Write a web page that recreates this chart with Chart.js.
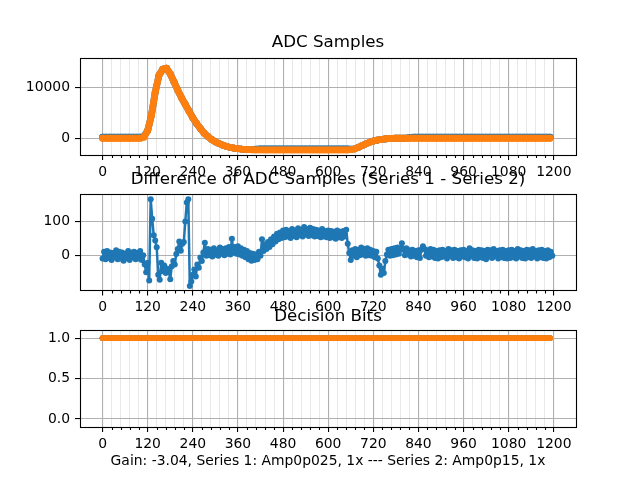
<!DOCTYPE html>
<html>
<head>
<meta charset="utf-8">
<script src="https://cdn.jsdelivr.net/npm/chart.js@4.4.1/dist/chart.umd.min.js"></script>
<style>
    body { margin: 0; background: #fff; }
    #wrap { position: relative; width: 640px; height: 480px; }
    canvas { position: absolute; left: 0; }
</style>
</head>
<body>
<div id="wrap">
    <canvas id="adcChart" width="640" height="180" style="top:0px"></canvas>
    <canvas id="diffChart" width="640" height="160" style="top:160px"></canvas>
    <canvas id="bitsChart" width="640" height="184" style="top:296px"></canvas>
</div>
<script>
// sample spacing of the values below
const adcStep = 10;
const diffStep = 4;
const bitStep = 10;

const xTickLabels = [0, 120, 240, 360, 480, 600, 720, 840, 960, 1080, 1200];

// ADC samples, series 1 (blue) - samples 0..1190
const adcSeries1 = [
    200, 200, 200, 200, 200, 200, 200, 200, 200, 200, 200, 350,
    1500, 4500, 9000, 12300, 13500, 13700, 12600, 11000, 9400, 7900, 6600, 5300,
    4000, 2900, 1900, 1000, 350, -250, -700, -1050, -1350, -1600, -1800, -1950,
    -2050, -2130, -2180, -2200, -2200, -2150, -2100, -2080, -2080, -2080, -2080, -2080,
    -2080, -2080, -2080, -2080, -2080, -2080, -2080, -2080, -2080, -2080, -2080, -2080,
    -2080, -2080, -2080, -2080, -2080, -2080, -2120, -2080, -1800, -1450, -1100, -800,
    -550, -380, -250, -150, -80, -30, 0, 0, 0, 50, 150, 200,
    200, 200, 200, 200, 200, 200, 200, 200, 200, 200, 200, 200,
    200, 200, 200, 200, 200, 200, 200, 200, 200, 200, 200, 200,
    200, 200, 200, 200, 200, 200, 200, 200, 200, 200, 200, 200
];

// ADC samples, series 2 (orange)
const adcSeries2 = [
    0, 0, 0, 0, 0, 0, 0, 0, 0, 0, 0, 200,
    1500, 4500, 9000, 12300, 13500, 13700, 12600, 11000, 9400, 7900, 6600, 5300,
    4000, 2900, 1900, 1000, 350, -250, -700, -1050, -1350, -1600, -1800, -1950,
    -2050, -2130, -2180, -2220, -2250, -2260, -2270, -2280, -2280, -2280, -2280, -2280,
    -2280, -2280, -2280, -2280, -2280, -2280, -2280, -2280, -2280, -2280, -2280, -2280,
    -2280, -2280, -2280, -2280, -2280, -2280, -2240, -2100, -1800, -1450, -1100, -800,
    -550, -380, -250, -150, -80, -30, 0, 0, 0, 0, 0, 0,
    0, 0, 0, 0, 0, 0, 0, 0, 0, 0, 0, 0,
    0, 0, 0, 0, 0, 0, 0, 0, 0, 0, 0, 0,
    0, 0, 0, 0, 0, 0, 0, 0, 0, 0, 0, 0
];

// Series 1 - Series 2, samples 0..1196
const adcDiff = [
    -8, 12, -10, 14, -6, 10, -12, 8, -4, 16, -10, 12, -8, 10, -14, 6, -6, 14, -12, 10, -4, 12, -10, 8, -8, 14, -12, 2, -25, -48,
    -20, -72, 165, 108, 60, 45, 25, -55, -70, -20, -45, -28, -50, -38, -45, -68, -30, -15, -25, 5, 20, 42, 15, 35, 40, 100, 155, 165, -88, -75,
    -55, -40, -60, -25, -35, -5, -15, 10, 38, 0, 20, 2, 18, -2, 22, 4, 16, 0, 24, 6, 20, 2, 22, 6, 26, 4, 50, 10, 26, 6,
    28, 4, 22, 0, 18, -4, 14, -10, 8, -14, 6, -12, 4, -10, 12, 0, 48, 14, 34, 20, 40, 26, 48, 34, 56, 42, 64, 48, 68, 52,
    74, 54, 76, 56, 72, 52, 78, 58, 74, 54, 80, 60, 76, 56, 84, 62, 78, 58, 82, 60, 78, 56, 76, 58, 74, 54, 78, 56, 72, 54,
    74, 52, 72, 54, 70, 50, 74, 54, 70, 52, 72, 56, 76, 35, 8, -12, 16, 0, 20, -4, 18, 2, 24, 4, 20, 0, 22, 2, 18, 0,
    14, -4, 12, -8, -28, -55, -38, -50, -15, 4, 18, 0, 20, 2, 22, 4, 24, 6, 20, 37, 18, 2, 22, 4, 16, -2, 18, 0, 14, -4,
    16, -6, 18, 28, 20, 0, 16, -4, 20, -2, 18, -6, 14, -8, 16, -4, 18, -2, 14, -8, 20, 0, 16, -6, 18, -4, 14, -8, 16, -2,
    18, -4, 14, -8, 22, 0, 16, -6, 14, -8, 18, -4, 16, -6, 14, -10, 18, -2, 16, -6, 20, 0, 14, -8, 16, -4, 18, -6, 14, -8,
    16, -6, 18, -4, 14, -8, 20, -2, 16, -6, 14, -8, 18, -4, 16, -6, 20, -2, 14, -8, 16, -4, 18, -6, 14, -8, 16, -4, 12, 0
];

// decision bits, samples 0..1190 (same for both series)
const decisionBits = [
    1, 1, 1, 1, 1, 1, 1, 1, 1, 1, 1, 1, 1, 1, 1, 1, 1, 1, 1, 1, 1, 1, 1, 1,
    1, 1, 1, 1, 1, 1, 1, 1, 1, 1, 1, 1, 1, 1, 1, 1, 1, 1, 1, 1, 1, 1, 1, 1,
    1, 1, 1, 1, 1, 1, 1, 1, 1, 1, 1, 1, 1, 1, 1, 1, 1, 1, 1, 1, 1, 1, 1, 1,
    1, 1, 1, 1, 1, 1, 1, 1, 1, 1, 1, 1, 1, 1, 1, 1, 1, 1, 1, 1, 1, 1, 1, 1,
    1, 1, 1, 1, 1, 1, 1, 1, 1, 1, 1, 1, 1, 1, 1, 1, 1, 1, 1, 1, 1, 1, 1, 1
];

const BLUE = '#1f77b4';
const ORANGE = '#ff7f0e';

Chart.defaults.font.family = "'DejaVu Sans', sans-serif";
Chart.defaults.color = '#000';

// major ticks every 120, minor every 24
const xGrid = [];
for (let v = 0; v <= 1200; v += 24) xGrid.push(v);
const isMajor = v => xTickLabels.includes(v);

function toPoints(values, step) {
    return values.map((y, i) => ({ x: i * step, y: y }));
}

// black box round the axes + short minor ticks
const axesFrame = {
    id: 'axesFrame',
    afterDraw(chart) {
        const { ctx, chartArea: a } = chart;
        const x = chart.scales.x;
        ctx.save();
        ctx.strokeStyle = '#000';
        ctx.lineWidth = 1.1;
        ctx.beginPath();
        x.ticks.forEach(t => {
            if (!isMajor(t.value)) {
                const px = Math.round(x.getPixelForValue(t.value)) + 0.5;
                ctx.moveTo(px, a.bottom);
                ctx.lineTo(px, a.bottom + 3);
            }
        });
        ctx.stroke();
        ctx.strokeRect(Math.round(a.left) + 0.5, Math.round(a.top) + 0.5,
            Math.round(a.right - a.left), Math.round(a.bottom - a.top));
        ctx.restore();
    }
};

function makeOptions(o) {
    return {
        responsive: false,
        animation: false,
        events: [],
        layout: { padding: { left: 0, right: 64, top: 0, bottom: 0 } },
        plugins: {
            legend: { display: false },
            tooltip: { enabled: false },
            title: {
                display: true,
                fullSize: false,
                text: o.title,
                color: '#000',
                font: { size: 16.7, weight: 'normal' },
                padding: { top: o.titleTop, bottom: o.titleBottom }
            }
        },
        scales: {
            x: {
                type: 'linear',
                min: -60,
                max: 1259,
                afterBuildTicks: s => { s.ticks = xGrid.map(v => ({ value: v })); },
                afterFit: s => { s.height = o.xHeight; },
                ticks: {
                    autoSkip: false,
                    maxRotation: 0,
                    padding: 4,
                    font: { size: 13.9 },
                    callback: v => isMajor(v) ? String(v) : ''
                },
                grid: {
                    color: c => (c.tick && isMajor(c.tick.value)) ? '#b0b0b0' : '#e2e2e2',
                    lineWidth: c => (c.tick && isMajor(c.tick.value)) ? 1.1 : 0.8,
                    tickLength: 5,
                    tickColor: c => (c.tick && isMajor(c.tick.value)) ? '#000' : 'rgba(0,0,0,0)',
                    tickWidth: 1.1
                },
                border: { display: false },
                title: {
                    display: !!o.xTitle,
                    text: o.xTitle || '',
                    font: { size: 13.9 },
                    padding: { top: 0, bottom: 10 }
                }
            },
            y: {
                type: 'linear',
                min: o.yMin,
                max: o.yMax,
                afterBuildTicks: s => { s.ticks = o.yTicks.map(v => ({ value: v })); },
                afterFit: s => { s.width = 80; },
                ticks: {
                    padding: 5,
                    font: { size: 13.9 },
                    callback: o.yLabel
                },
                grid: {
                    color: '#b0b0b0',
                    lineWidth: 1.1,
                    tickLength: 5,
                    tickColor: '#000',
                    tickWidth: 1.1
                },
                border: { display: false }
            }
        }
    };
}

function lineSet(label, points, color, radius, width, order) {
    return {
        label: label,
        data: points,
        borderColor: color,
        backgroundColor: color,
        borderWidth: width,
        borderCapStyle: 'round',
        borderJoinStyle: 'round',
        pointRadius: radius,
        pointBorderWidth: 0,
        pointBackgroundColor: color,
        tension: 0,
        order: order
    };
}

new Chart(document.getElementById('adcChart'), {
    type: 'line',
    data: {
        datasets: [
            lineSet('Series 1', toPoints(adcSeries1, adcStep), BLUE, 3.4, 6.8, 1),
            lineSet('Series 2', toPoints(adcSeries2, adcStep), ORANGE, 3.4, 6.8, 0)
        ]
    },
    options: makeOptions({
        title: 'ADC Samples', titleTop: 33, titleBottom: 5, xHeight: 25,
        yMin: -3280, yMax: 15690, yTicks: [0, 10000], yLabel: v => String(v)
    }),
    plugins: [axesFrame]
});

new Chart(document.getElementById('diffChart'), {
    type: 'line',
    data: {
        datasets: [
            lineSet('Series 1 - Series 2', toPoints(adcDiff, diffStep), BLUE, 3, 2.5, 0)
        ]
    },
    options: makeOptions({
        title: 'Difference of ADC Samples (Series 1 - Series 2)', titleTop: 10, titleBottom: 4, xHeight: 29.5,
        yMin: -101, yMax: 180, yTicks: [0, 100], yLabel: v => String(v)
    }),
    plugins: [axesFrame]
});

new Chart(document.getElementById('bitsChart'), {
    type: 'line',
    data: {
        datasets: [
            lineSet('Series 1', toPoints(decisionBits, bitStep), BLUE, 2.9, 5.8, 1),
            lineSet('Series 2', toPoints(decisionBits, bitStep), ORANGE, 2.9, 5.8, 0)
        ]
    },
    options: makeOptions({
        title: 'Decision Bits', titleTop: 11, titleBottom: 3, xHeight: 53,
        xTitle: 'Gain: -3.04, Series 1: Amp0p025, 1x --- Series 2: Amp0p15, 1x',
        yMin: -0.1, yMax: 1.1, yTicks: [0, 0.5, 1], yLabel: v => v.toFixed(1)
    }),
    plugins: [axesFrame]
});
</script>
</body>
</html>
